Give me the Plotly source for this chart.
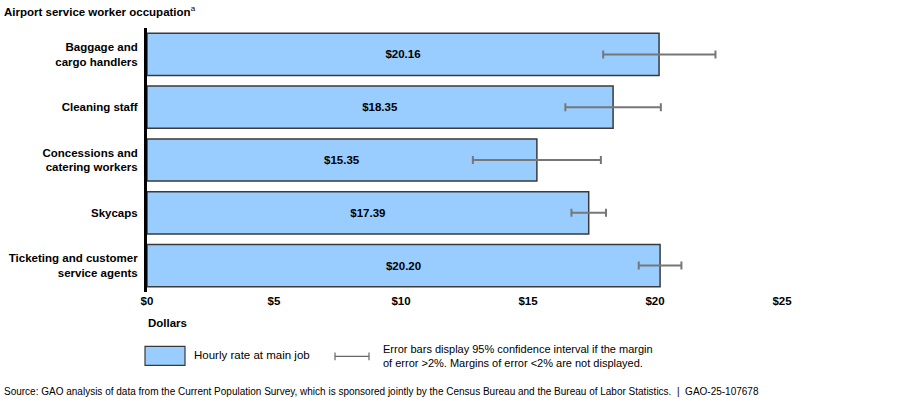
import plotly.graph_objects as go

categories = ["Baggage and<br>cargo handlers", "Cleaning staff",
              "Concessions and<br>catering workers", "Skycaps",
              "Ticketing and customer<br>service agents"]
hourly_rate = [20.16, 18.35, 15.35, 17.39, 20.20]
err_plus = [2.22, 1.88, 2.52, 0.68, 0.84]
err_minus = [2.20, 1.88, 2.52, 0.68, 0.84]
tick_vals = [0, 5, 10, 15, 20, 25]
tick_text = ["$0", "$5", "$10", "$15", "$20", "$25"]

FONT = "Arial, Liberation Sans, sans-serif"

fig = go.Figure()
fig.add_trace(go.Bar(
    y=categories, x=hourly_rate, orientation="h",
    marker=dict(color="#99CCFF", line=dict(color="#3a3a3a", width=1.5)),
    text=[f"<b>${v:.2f}</b>" for v in hourly_rate],
    textposition="inside", insidetextanchor="middle",
    textfont=dict(family=FONT, size=11.5, color="black"),
    error_x=dict(type="data", symmetric=False, array=err_plus, arrayminus=err_minus,
                 color="#777777", thickness=2, width=4),
    showlegend=False,
))

# pixel -> paper helpers (plot area x 147..782, y 28..292.5)
def px(x):
    return (x - 147) / 635.0

def py(y):
    return (292.5 - y) / 264.5

shapes = [
    dict(type="rect", xref="paper", yref="paper", x0=px(145), x1=px(185), y0=py(347), y1=py(366),
         fillcolor="#99CCFF", line=dict(color="#3a3a3a", width=1.2)),
    dict(type="line", xref="paper", yref="paper", x0=px(335), x1=px(369), y0=py(357), y1=py(357),
         line=dict(color="#666666", width=1.2)),
    dict(type="line", xref="paper", yref="paper", x0=px(335), x1=px(335), y0=py(353), y1=py(361),
         line=dict(color="#666666", width=1.2)),
    dict(type="line", xref="paper", yref="paper", x0=px(369), x1=px(369), y0=py(353), y1=py(361),
         line=dict(color="#666666", width=1.2)),
]

annotations = [
    dict(text="<b>Dollars</b>", xref="paper", yref="paper", x=px(146), y=py(324),
         xanchor="left", yanchor="middle", showarrow=False, font=dict(family=FONT, size=11.5, color="black")),
    dict(text="Hourly rate at main job", xref="paper", yref="paper", x=px(192), y=py(356),
         xanchor="left", yanchor="middle", showarrow=False, font=dict(family=FONT, size=11.5, color="black")),
    dict(text="Error bars display 95% confidence interval if the margin<br>of error >2%. Margins of error <2% are not displayed.",
         xref="paper", yref="paper", x=px(381), y=py(357), xanchor="left", yanchor="middle", align="left",
         showarrow=False, font=dict(family=FONT, size=11, color="black")),
    dict(text="Source: GAO analysis of data from the Current Population Survey, which is sponsored jointly by the Census Bureau and the Bureau of Labor Statistics.  |  GAO-25-107678",
         xref="paper", yref="paper", x=px(2), y=py(392), xanchor="left", yanchor="middle",
         showarrow=False, font=dict(family=FONT, size=10, color="black")),
]

fig.update_layout(
    width=900, height=401,
    margin=dict(l=147, r=118, t=28, b=108.5, autoexpand=False),
    paper_bgcolor="white", plot_bgcolor="white",
    bargap=0.2,
    title=dict(text="<b>Airport service worker occupation</b><sup>a</sup>", x=4/900, xref="container",
               xanchor="left", y=1 - 12/401, yref="container", yanchor="middle",
               font=dict(family=FONT, size=11.5, color="black")),
    xaxis=dict(range=[0, 25], tickvals=tick_vals, ticktext=[f"<b>{t}</b>" for t in tick_text],
               showgrid=False, zeroline=False, showline=False, ticks="", automargin=False,
               tickfont=dict(family=FONT, size=11.5, color="black")),
    yaxis=dict(autorange="reversed", showgrid=False, zeroline=False, showline=True, automargin=False,
               linecolor="black", linewidth=3, ticks="", ticklabelstandoff=4,
               tickfont=dict(family=FONT, size=11.5, color="black"),
               tickvals=categories, ticktext=[f"<b>{c}</b>" for c in categories]),
    shapes=shapes, annotations=annotations,
)

fig.write_html("out.html", config={"displayModeBar": False},
               post_script="document.body.style.margin='0';document.body.style.overflow='hidden';")
